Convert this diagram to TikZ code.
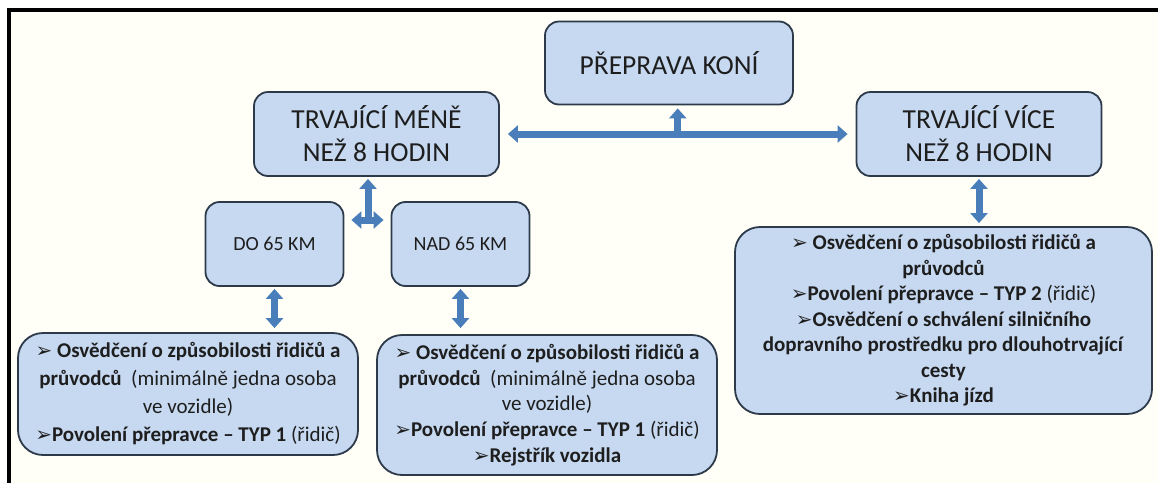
\documentclass[tikz,border=0pt]{standalone}
\usepackage{fontspec}
\setmainfont{Carlito}
\newfontfamily\dingfont{DejaVu Sans}
\usetikzlibrary{arrows.meta,calc}

\definecolor{boxfill}{RGB}{198,217,241}
\definecolor{boxline}{RGB}{45,58,74}
\definecolor{arrowblue}{RGB}{74,126,187}
\definecolor{paper}{RGB}{255,255,247}
\definecolor{ink}{RGB}{30,30,30}

\newcommand{\pnt}{{\dingfont\fontsize{20}{20}\selectfont ➢}}

\tikzset{
  >={Triangle[width=17pt,length=10pt]},
  box/.style={draw=boxline, line width=1.8pt, fill=boxfill, rounded corners=14pt,
    align=center, inner sep=0pt, text=ink},
  head/.style={box, minimum width=245pt, minimum height=84pt, font=\fontsize{27.5}{33}\selectfont},
  km/.style={box, minimum width=138pt, minimum height=84pt, font=\fontsize{20}{24}\selectfont},
  list/.style={box, rounded corners=25pt, minimum width=340pt},
  conn/.style={draw=arrowblue, line width=7pt},
}

\begin{document}
\begin{tikzpicture}[x=1pt,y=-1pt]
\useasboundingbox (0,0) rectangle (1158,483);
% frame
\fill[paper] (9,10) rectangle (1158,483);
\draw[line width=4pt] (9,483) -- (9,10) -- (1158,10);
% top row
\node[head, minimum width=248pt, minimum height=83pt] (koni) at (669,63) {PŘEPRAVA KONÍ};
\node[head] (mene) at (376.5,134) {TRVAJÍCÍ MÉNĚ\\NEŽ 8 HODIN};
\node[head] (vice) at (979,134) {TRVAJÍCÍ VÍCE\\NEŽ 8 HODIN};
% distance
\node[km] (do65) at (274.5,244) {DO 65 KM};
\node[km] (nad65) at (460.5,244) {NAD 65 KM};
% lists
\node[list, minimum height=122pt, font=\fontsize{21}{28}\selectfont] (listdo) at (188,394)
  {\pnt~\textbf{Osvědčení o způsobilosti řidičů a}\\
   \textbf{průvodců}~~(minimálně jedna osoba\\
   ve vozidle)\\
   \pnt\textbf{Povolení přepravce – TYP 1} (řidič)};
\node[list, minimum height=140pt, font=\fontsize{21}{25.75}\selectfont] (listnad) at (547,405)
  {\pnt~\textbf{Osvědčení o způsobilosti řidičů a}\\
   \textbf{průvodců}~~(minimálně jedna osoba\\
   ve vozidle)\\
   \pnt\textbf{Povolení přepravce – TYP 1} (řidič)\\
   \pnt\textbf{Rejstřík vozidla}};
\node[list, minimum width=417pt, minimum height=187pt, font=\fontsize{21}{25.5}\selectfont] (listvice) at (943.5,320.5)
  {\pnt~\textbf{Osvědčení o způsobilosti řidičů a}\\
   \textbf{průvodců}\\
   \pnt\textbf{Povolení přepravce – TYP 2} (řidič)\\
   \pnt\textbf{Osvědčení o schválení silničního}\\
   \textbf{dopravního prostředku pro dlouhotrvající}\\
   \textbf{cesty}\\
   \pnt\textbf{Kniha jízd}};
% arrows
\coordinate (mid) at ($(mene.east)!0.5!(vice.west)$);
\draw[conn,<->,shorten <=8pt,shorten >=8pt] (mene.east) -- (vice.west);
\draw[conn,->,shorten >=3pt] (mid) -- (mid |- koni.south);
%
\coordinate (tj) at (368,220);
\draw[conn,->,shorten >=2pt] (tj) -- (tj |- mene.south);
\draw[conn,<->,shorten <=7pt,shorten >=7pt] (tj -| do65.east) -- (tj -| nad65.west);
%
\draw[conn,<->,shorten <=2pt,shorten >=4pt] (do65.south) -- (do65.south |- listdo.north);
\draw[conn,<->,shorten <=2pt,shorten >=6pt] (nad65.south) -- (nad65.south |- listnad.north);
\draw[conn,<->,shorten <=2pt,shorten >=3pt] (vice.south) -- (vice.south |- listvice.north);
\end{tikzpicture}
\end{document}
